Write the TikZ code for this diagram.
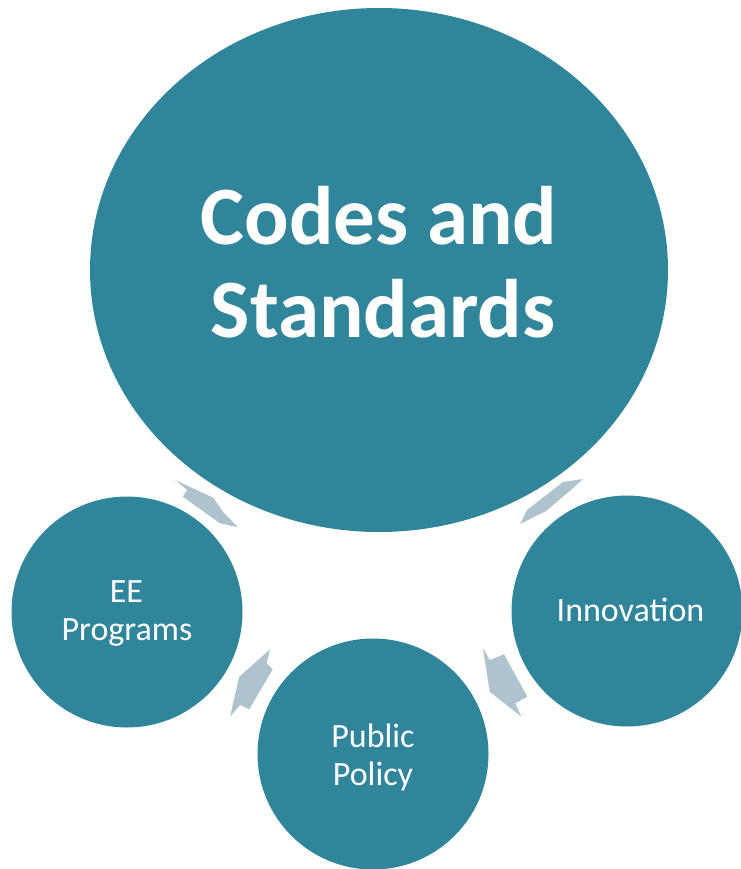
\documentclass[tikz,border=0pt]{standalone}
\usepackage{fontspec}
\setmainfont{Carlito}
\usetikzlibrary{shapes.geometric}
\definecolor{tealc}{RGB}{49,133,155}
\definecolor{arrowc}{RGB}{174,195,205}
\tikzset{
  bubble/.style={circle, fill=tealc, draw=none, minimum size=231pt, inner sep=0pt},
  bigtext/.style={anchor=base, text=white, font=\fontsize{83}{93}\selectfont\bfseries, inner sep=0pt},
  smalltext/.style={anchor=base, text=white, font=\fontsize{34}{40}\selectfont, inner sep=0pt},
  cyclearrow/.style={fill=arrowc, draw=none}
}
\begin{document}
\begin{tikzpicture}[x=1pt,y=-1pt]
\useasboundingbox (0,0) rectangle (740,869);
% big ellipse
\node[ellipse, fill=tealc, draw=none, minimum width=578pt, minimum height=524pt, inner sep=0pt] (codes) at (379,270) {};
\node[bigtext] (t1) at (379,244) {Codes and};
\node[bigtext] (t2) at (383,337) {Standards};
% small circles
\node[bubble] (ee) at (127,612) {};
\node[smalltext] (ee1) at (126.5,602) {EE};
\node[smalltext] (ee2) at (127,640) {Programs};
\node[bubble] (inno) at (627,611) {};
\node[smalltext] (inno1) at (630.5,621) {Innovation};
\node[bubble] (pp) at (373,754) {};
\node[smalltext] (pp1) at (373,747) {Public};
\node[smalltext] (pp2) at (373,785) {Policy};
% cycle arrows
\fill[cyclearrow] (175,480) -- (213.3,497.7) -- (223.3,512.3) -- (238.3,527.3) -- (220,523.3) -- (182.7,496.7) -- (187.3,490) -- cycle;
\fill[cyclearrow] (563,482) -- (583,479) -- (572,489) -- (546,511) -- (520,524) -- (527,510) -- cycle;
\fill[cyclearrow] (483,648.3) -- (489.7,660) -- (504,654.3) -- (527.3,696.7) -- (515.3,703.3) -- (521.3,716.7) -- (489.7,691.7) -- cycle;
\fill[cyclearrow] (270,649.3) -- (266.7,663.3) -- (272.7,669.3) -- (249.3,709.3) -- (240,705) -- (230,716.7) -- (239.3,676.7) -- cycle;
\end{tikzpicture}
\end{document}
